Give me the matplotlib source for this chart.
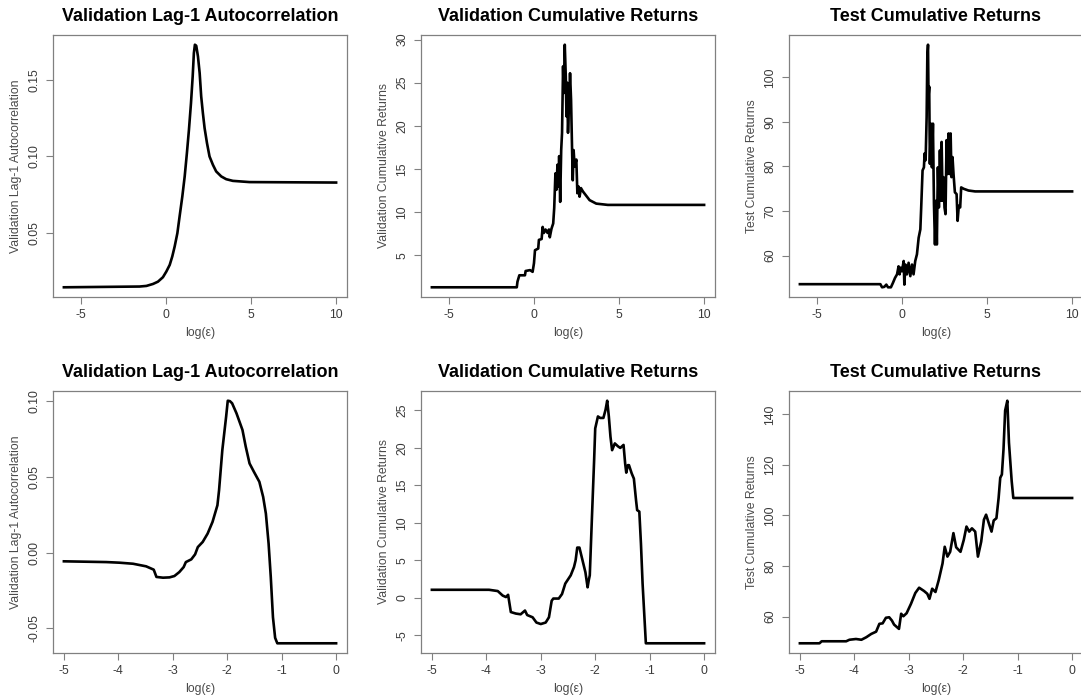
import matplotlib
matplotlib.use("Agg")
import matplotlib.pyplot as plt

plt.rcParams['font.family'] = ['Liberation Sans', 'DejaVu Sans']

# ---------------- data ----------------
titles = ["Validation Lag-1 Autocorrelation", "Validation Cumulative Returns", "Test Cumulative Returns",
          "Validation Lag-1 Autocorrelation", "Validation Cumulative Returns", "Test Cumulative Returns"]
ylabels = ["Validation Lag-1 Autocorrelation", "Validation Cumulative Returns", "Test Cumulative Returns",
           "Validation Lag-1 Autocorrelation", "Validation Cumulative Returns", "Test Cumulative Returns"]
xlabel = "log(\u03b5)"

# Top-left: validation lag-1 autocorrelation
x1 = [-6.0, -1.55, -1.15, -0.76, -0.47, -0.18, 0.02, 0.22, 0.37, 0.51, 0.67, 0.80, 0.96, 1.10, 1.23,
      1.35, 1.47, 1.57, 1.64, 1.70, 1.78, 1.88, 1.98, 2.07, 2.17, 2.27, 2.41, 2.56, 2.76, 2.95, 3.25,
      3.54, 3.93, 4.91, 10.0]
y1 = [0.0142, 0.0147, 0.0151, 0.0164, 0.0179, 0.0208, 0.0245, 0.0289, 0.0344, 0.0409, 0.0497, 0.0606,
      0.0737, 0.0869, 0.1022, 0.1175, 0.135, 0.1525, 0.1678, 0.1733, 0.1726, 0.1656, 0.1547, 0.1394,
      0.1284, 0.1186, 0.1088, 0.100, 0.0945, 0.0902, 0.0869, 0.0851, 0.0840, 0.0832, 0.0829]

# Top-middle: validation cumulative returns
x2 = [-6.0, -1.01, -0.97, -0.86, -0.53, -0.49, -0.23, -0.08, 0.0, 0.06, 0.25, 0.29, 0.45, 0.51, 0.58,
      0.68, 0.8, 0.88, 0.93, 1.03, 1.13, 1.19, 1.26, 1.32, 1.38, 1.44, 1.48, 1.54, 1.6, 1.65, 1.71, 1.75,
      1.81, 1.87, 1.91, 1.95, 2.0, 2.06, 2.12, 2.18, 2.24, 2.28, 2.33, 2.39, 2.49, 2.55, 2.61, 2.68, 2.76,
      2.88, 3.27, 3.66, 4.34, 10.0]
y2 = [1.31, 1.31, 1.96, 2.7, 2.7, 3.2, 3.3, 3.1, 4.1, 5.6, 5.8, 6.8, 6.9, 8.3, 7.6, 8.0, 7.6, 8.0, 7.1,
      8.1, 8.7, 10.5, 14.5, 12.6, 15.5, 13.0, 16.5, 11.2, 17.2, 19.2, 26.9, 23.8, 29.4, 25.7, 21.1, 25.0,
      19.2, 22.6, 26.1, 23.0, 17.2, 13.7, 17.2, 15.3, 16.1, 12.2, 13.0, 11.8, 12.8, 12.4, 11.4, 11.0,
      10.85, 10.85]

# Top-right: test cumulative returns
x3 = [-6.0, -1.27, -1.17, -1.04, -0.92, -0.82, -0.65, -0.53, -0.41, -0.29, -0.2, -0.14, -0.08, 0.0,
      0.1, 0.14, 0.2, 0.29, 0.39, 0.49, 0.59, 0.68, 0.78, 0.88, 0.98, 1.08, 1.13, 1.21, 1.29, 1.33, 1.39,
      1.45, 1.49, 1.53, 1.56, 1.6, 1.64, 1.7, 1.76, 1.82, 1.88, 1.94, 2.0, 2.05, 2.11, 2.17, 2.23, 2.29,
      2.33, 2.39, 2.44, 2.5, 2.56, 2.62, 2.68, 2.74, 2.8, 2.86, 2.91, 2.97, 3.03, 3.11, 3.21, 3.27, 3.34,
      3.42, 3.48, 3.62, 3.91, 4.3, 10.0]
y3 = [53.6, 53.6, 52.9, 53.0, 53.5, 52.9, 52.9, 53.9, 55.0, 55.8, 57.6, 55.8, 57.3, 56.5, 58.8, 53.5,
      58.0, 55.8, 58.4, 55.4, 58.0, 55.8, 58.8, 60.3, 64.0, 65.9, 70.8, 79.1, 79.8, 82.9, 81.4, 91.1,
      104.7, 107.3, 95.7, 97.9, 80.6, 89.6, 79.8, 89.6, 71.6, 62.5, 72.3, 62.5, 79.8, 70.8, 83.6, 72.3,
      85.5, 72.3, 77.6, 70.8, 69.3, 85.9, 78.3, 87.4, 78.3, 87.4, 77.6, 82.1, 78.3, 74.2, 73.8, 67.8,
      71.2, 70.8, 75.3, 75.0, 74.6, 74.4, 74.4]

# Bottom-left: validation lag-1 autocorrelation
x4 = [-5.0, -4.22, -3.98, -3.73, -3.49, -3.35, -3.3, -3.18, -3.06, -2.97, -2.88, -2.8, -2.76, -2.66,
      -2.59, -2.54, -2.45, -2.36, -2.27, -2.18, -2.15, -2.09, -2.02, -1.99, -1.95, -1.91, -1.83, -1.72,
      -1.66, -1.59, -1.51, -1.41, -1.34, -1.29, -1.24, -1.2, -1.16, -1.12, -1.08, 0.0]
y4 = [-0.0057, -0.0062, -0.0066, -0.0073, -0.009, -0.0112, -0.016, -0.0165, -0.0163, -0.0154, -0.0128,
      -0.0095, -0.0062, -0.0044, -0.0011, 0.0037, 0.0071, 0.0126, 0.0203, 0.0313, 0.0412, 0.0677, 0.0898,
      0.1003, 0.1000, 0.0986, 0.092, 0.081, 0.070, 0.0589, 0.0534, 0.0468, 0.0368, 0.0258, 0.0060,
      -0.0161, -0.0426, -0.0562, -0.0598, -0.0598]

# Bottom-middle: validation cumulative returns
x5 = [-5.0, -3.95, -3.79, -3.7, -3.64, -3.6, -3.55, -3.46, -3.37, -3.29, -3.25, -3.15, -3.08, -3.0,
      -2.91, -2.85, -2.8, -2.77, -2.67, -2.61, -2.55, -2.45, -2.39, -2.36, -2.33, -2.29, -2.24, -2.18,
      -2.14, -2.12, -2.1, -2.06, -2.02, -2.0, -1.95, -1.91, -1.85, -1.81, -1.78, -1.75, -1.72, -1.69,
      -1.64, -1.58, -1.54, -1.48, -1.45, -1.43, -1.4, -1.38, -1.33, -1.29, -1.25, -1.23, -1.19, -1.16,
      -1.13, -1.1, -1.07, 0.0]
y5 = [1.07, 1.07, 0.9, 0.3, 0.1, 0.4, -1.9, -2.1, -2.2, -1.7, -2.3, -2.6, -3.3, -3.5, -3.3, -2.6, -0.4,
      -0.1, -0.1, 0.5, 1.9, 3.0, 4.1, 5.0, 6.7, 6.7, 5.2, 3.4, 1.4, 2.3, 3.0, 10.8, 18.4, 22.6, 24.2,
      24.0, 24.0, 25.1, 26.3, 24.2, 21.5, 19.7, 20.6, 20.2, 20.0, 20.4, 17.9, 16.7, 17.7, 17.7, 16.6,
      15.9, 13.0, 11.7, 11.5, 7.2, 1.9, -2.1, -6.07, -6.07]

# Bottom-right: test cumulative returns
x6 = [-5.0, -4.64, -4.6, -4.15, -4.09, -3.97, -3.87, -3.78, -3.69, -3.6, -3.54, -3.48, -3.42, -3.36,
      -3.31, -3.27, -3.18, -3.14, -3.1, -3.04, -2.96, -2.88, -2.81, -2.72, -2.66, -2.62, -2.57, -2.51,
      -2.45, -2.38, -2.34, -2.29, -2.24, -2.18, -2.13, -2.05, -1.99, -1.94, -1.89, -1.84, -1.78, -1.73,
      -1.67, -1.62, -1.58, -1.53, -1.48, -1.44, -1.39, -1.35, -1.32, -1.29, -1.26, -1.23, -1.19, -1.16,
      -1.11, -1.08, 0.0]
y6 = [49.4, 49.4, 50.2, 50.2, 50.8, 51.1, 50.8, 51.8, 53.1, 54.0, 57.1, 57.3, 59.5, 59.7, 58.4, 56.8,
      55.1, 61.1, 60.1, 61.3, 65.0, 69.3, 71.4, 70.1, 69.0, 67.0, 71.0, 69.7, 74.4, 81.0, 87.6, 83.7,
      85.6, 93.0, 87.4, 85.6, 90.3, 95.6, 93.6, 94.9, 93.6, 83.7, 89.6, 98.3, 100.3, 96.9, 93.6, 98.0,
      98.9, 106.9, 114.9, 116.2, 126.2, 141.5, 145.4, 128.8, 113.6, 106.9, 106.9]

xs = [x1, x2, x3, x4, x5, x6]
ys = [y1, y2, y3, y4, y5, y6]

xticks_top = [-5, 0, 5, 10]
xticks_bottom = [-5, -4, -3, -2, -1, 0]
xticklabels_top = ["-5", "0", "5", "10"]
xticklabels_bottom = ["-5", "-4", "-3", "-2", "-1", "0"]
yticks = [[0.05, 0.10, 0.15], [5, 10, 15, 20, 25, 30], [60, 70, 80, 90, 100],
          [-0.05, 0.00, 0.05, 0.10], [-5, 0, 5, 10, 15, 20, 25], [60, 80, 100, 120, 140]]
yticklabels = [["0.05", "0.10", "0.15"], ["5", "10", "15", "20", "25", "30"],
               ["60", "70", "80", "90", "100"], ["-0.05", "0.00", "0.05", "0.10"],
               ["-5", "0", "5", "10", "15", "20", "25"], ["60", "80", "100", "120", "140"]]

# ---------------- figure ----------------
W, H = 1081, 696
fig = plt.figure(figsize=(W / 100, H / 100), dpi=100)

lefts = [53, 421, 789]
tops = [35, 391]
aw, ah = 294, 262

frame_col = "#808080"
tick_col = "#3a3a3a"
lab_col = "#4a4a4a"

for i in range(6):
    r, c = divmod(i, 3)
    ax = fig.add_axes([lefts[c] / W, (H - tops[r] - ah) / H, aw / W, ah / H])
    ax.plot(xs[i], ys[i], color="black", lw=1.9, solid_joinstyle="round")
    ax.margins(x=0.04, y=0.04)
    if r == 0:
        ax.set_xticks(xticks_top)
        ax.set_xticklabels(xticklabels_top)
    else:
        ax.set_xticks(xticks_bottom)
        ax.set_xticklabels(xticklabels_bottom)
    ax.set_yticks(yticks[i])
    ax.set_yticklabels(yticklabels[i], rotation=90, va="center")
    for s in ax.spines.values():
        s.set_color(frame_col)
        s.set_linewidth(0.9)
    ax.tick_params(direction="out", length=5, width=0.8, color=frame_col,
                   labelsize=8.8, labelcolor=tick_col, pad=4)
    ax.set_title(titles[i], fontsize=13, fontweight="bold", pad=10, color="black")
    ax.set_xlabel(xlabel, fontsize=8.8, color=lab_col, labelpad=4)
    ax.set_ylabel(ylabels[i], fontsize=8.8, color=lab_col, labelpad=5)

fig.savefig("out.png", dpi=100, facecolor="white")
